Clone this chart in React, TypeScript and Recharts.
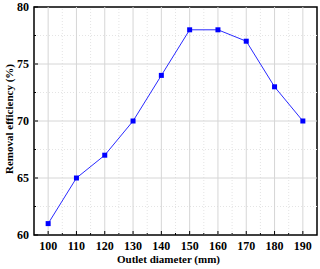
import React from "react";
import { LineChart, Line, XAxis, YAxis, ReferenceLine, ReferenceArea } from "recharts";

const diameters = [100, 110, 120, 130, 140, 150, 160, 170, 180, 190];
const efficiency = [61, 65, 67, 70, 74, 78, 78, 77, 73, 70];
const xMajor = [100, 110, 120, 130, 140, 150, 160, 170, 180, 190];
const xMinor = [105, 115, 125, 135, 145, 155, 165, 175, 185];
const yMajor = [60, 65, 70, 75, 80];
const yMinor = [62.5, 67.5, 72.5, 77.5];

const data = diameters.map((d, i) => ({ d, e: efficiency[i] }));

const FONT = '"Liberation Serif", "Times New Roman", serif';
const X_MARGIN = 6;
const Y_MARGIN = 5;

const XTick = (props: any) => {
  const { x, y, payload } = props;
  const v = payload.value;
  const major = v % 10 === 0;
  const ay = y - X_MARGIN;
  return (
    <g>
      <line x1={x} x2={x} y1={ay} y2={ay - (major ? 4 : 2)} stroke="#000" strokeWidth={1} />
      {major && (
        <text x={x} y={y} dy="0.71em" textAnchor="middle" fontFamily={FONT} fontWeight="bold" fontSize={12} fill="#000">
          {v}
        </text>
      )}
    </g>
  );
};

const YTick = (props: any) => {
  const { x, y, payload } = props;
  const v = payload.value;
  const major = v % 5 === 0;
  const ax = x + Y_MARGIN;
  return (
    <g>
      <line x1={ax} x2={ax + (major ? 4 : 2)} y1={y} y2={y} stroke="#000" strokeWidth={1} />
      {major && (
        <text x={x} y={y} dy="0.355em" textAnchor="end" fontFamily={FONT} fontWeight="bold" fontSize={12} fill="#000">
          {v}
        </text>
      )}
    </g>
  );
};

const XTitle = (props: any) => {
  const vb = props.viewBox || {};
  const cx = vb.x + vb.width / 2 - 7;
  const cy = vb.y + 28;
  return (
    <text x={cx} y={cy} textAnchor="middle" fontFamily={FONT} fontWeight="bold" fontSize={11} fill="#000">
      Outlet diameter (mm)
    </text>
  );
};

const YTitle = (props: any) => {
  const vb = props.viewBox || {};
  const cx = vb.x + 13;
  const cy = vb.y + vb.height / 2 - 2;
  return (
    <text x={cx} y={cy} transform={`rotate(-90, ${cx}, ${cy})`} textAnchor="middle" fontFamily={FONT} fontWeight="bold" fontSize={11} fill="#000">
      Removal efficiency (%)
    </text>
  );
};

const Square = (props: any) => {
  const { cx, cy } = props;
  if (cx == null || cy == null) return null;
  return <rect x={cx - 2.5} y={cy - 2.5} width={5} height={5} fill="#0000ff" />;
};

export default function App() {
  return (
    <div style={{ position: "absolute", left: 0, top: 0, width: 320, height: 269, background: "#fff" }}>
      <LineChart width={320} height={269} data={data} margin={{ top: 7, right: 3, left: 0, bottom: 0 }}>
        <XAxis
          dataKey="d"
          type="number"
          domain={[95, 195]}
          ticks={[...xMajor, ...xMinor].sort((a, b) => a - b)}
          interval={0}
          height={34}
          tickSize={0}
          tickMargin={X_MARGIN}
          tick={<XTick />}
          axisLine={false}
          tickLine={false}
          label={<XTitle />}
        />
        <YAxis
          type="number"
          domain={[60, 80]}
          ticks={[...yMajor, ...yMinor].sort((a, b) => a - b)}
          interval={0}
          width={34}
          tickSize={0}
          tickMargin={Y_MARGIN}
          tick={<YTick />}
          axisLine={false}
          tickLine={false}
          label={<YTitle />}
        />
        {xMinor.map((v) => (
          <ReferenceLine key={"xm" + v} x={v} stroke="#e4e4e4" strokeDasharray="1 2" strokeWidth={1} />
        ))}
        {yMinor.map((v) => (
          <ReferenceLine key={"ym" + v} y={v} stroke="#e4e4e4" strokeDasharray="1 2" strokeWidth={1} />
        ))}
        {xMajor.map((v) => (
          <ReferenceLine key={"xM" + v} x={v} stroke="#d6d6d6" strokeWidth={1} />
        ))}
        {yMajor.slice(1, -1).map((v) => (
          <ReferenceLine key={"yM" + v} y={v} stroke="#d6d6d6" strokeWidth={1} />
        ))}
        <ReferenceArea x1={95} x2={195} y1={60} y2={80} fill="none" stroke="#000" strokeWidth={1.5} ifOverflow="visible" />
        <Line
          dataKey="e"
          stroke="#2a2aff"
          strokeWidth={1}
          dot={<Square />}
          activeDot={false}
          isAnimationActive={false}
        />
      </LineChart>
    </div>
  );
}
